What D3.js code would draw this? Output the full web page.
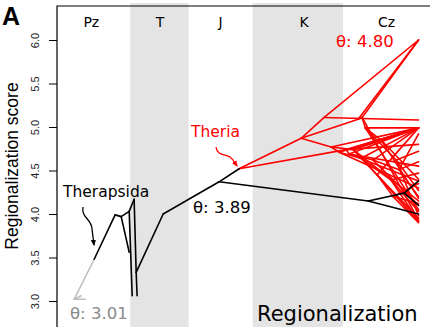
<!DOCTYPE html>
<html>
<head>
<meta charset="utf-8">
<script src="https://cdn.jsdelivr.net/npm/d3@7"></script>
<style>
  html, body { margin: 0; padding: 0; background: #fff; }
  svg { display: block; }
</style>
</head>
<body>
<svg id="chart" width="430" height="327"></svg>
<script>
// Geological periods (Ma before present)
const periodNames    = ["Pz", "T", "J", "K", "Cz"];
const periodStart    = [315, 252, 201, 145, 66];
const periodEnd      = [252, 201, 145, 66, -11];
const periodLabelAge = [286, 226, 173, 100, 28];
const periodShaded   = [false, true, false, true, false];

// Regionalization score axis
const scoreTicks = [3.0, 3.5, 4.0, 4.5, 5.0, 5.5, 6.0];

// Internal / fossil nodes of the phenogram: id, age (Ma), regionalization score
const nodeIds = ["root","s1","s2","n1","n2","n3","t1","n4","t2","n5","n6","t3","n7","n8","TH",
                 "b1","b2","R1","R2","R3","R3b","R5","R6","R4",
                 "C1","C2","C3","C4","C5","C6","C7","C8","C9","C10","C11"];
const nodeAges   = [301, 294.9, 291.4, 283.5, 265.2, 259.9, 252.9, 252.9, 250.3, 248.6, 246.8, 246.0, 223.2, 174.3, 156.8,
                    44.0, 12.5, 102.6, 82.5, 52.8, 49.3, 46.6, 76.4, 63.3,
                    69.4, 60.6, 57.1, 50.1, 39.7, 36.2, 24.1, 17.1, 22.2, 32.7, 19.5];
const nodeScores = [3.02, 3.06, 3.02, 3.48, 3.99, 3.97, 3.56, 4.03, 3.06, 4.17, 3.33, 3.06, 4.00, 4.37, 4.52,
                    4.15, 4.24, 4.87, 5.11, 5.09, 5.11, 4.99, 4.77, 4.74,
                    4.71, 4.69, 4.74, 4.64, 4.62, 4.45, 4.39, 4.51, 4.20, 4.85, 4.62];

// Branches between nodes: parent, child, regime
const branchParent = ["root","root","root","n1","n2","n3","n3","n4","n4","n5","n6","n6","n7","n8","n8","b1",
                      "TH","TH","R1","R1","R3","R3b","R1","R6","R4","R6","C1","C2","C3","C4","C5","C6","R5","R5"];
const branchChild  = ["s1","s2","n1","n2","n3","t1","n4","t2","n5","n6","t3","n7","n8","TH","b1","b2",
                      "R1","R4","R2","R3","R3b","R5","R6","C1","C2","C3","C4","C5","C6","C7","C8","C9","C10","C11"];
const branchRegime = ["stem","stem","stem","therapsid","therapsid","therapsid","therapsid","therapsid","therapsid",
                      "therapsid","therapsid","therapsid","therapsid","therapsid","therapsid","therapsid",
                      "theria","theria","theria","theria","theria","theria","theria","theria","theria","theria",
                      "theria","theria","theria","theria","theria","theria","theria","theria"];

// Living taxa (age 0): parent node and regionalization score
const tipParent = ["b2","b2","b1",
                   "R2","R2","R3","R3b","R3b","R5","R5","R6","R4","R4","C1","C1","C2","C2","C2","C3","C3",
                   "C4","C4","C5","C5","C6","C6","C7","C7","C7","C8","C8","C8","C9","C9","C9",
                   "C10","C10","C10","C11","C11","C11"];
const tipScore  = [4.38, 4.10, 4.00,
                   6.00, 5.08, 6.00, 6.00, 3.93, 4.99, 4.05, 4.99, 4.99, 4.80, 4.99, 4.30, 4.99, 4.55, 4.38, 4.99, 4.15,
                   4.99, 3.95, 4.99, 4.10, 4.99, 3.91, 4.03, 4.47, 3.92, 4.92, 4.60, 4.20, 4.35, 3.90, 4.12,
                   4.99, 4.40, 4.18, 4.72, 4.27, 3.98];

// Estimated optima per regime
const thetaRegime = ["stem", "therapsid", "theria"];
const thetaValue  = [3.01, 3.89, 4.80];

// Clade labels
const cladeNames = ["Therapsida", "Theria"];

// ---------------------------------------------------------------
const W = 430, H = 327;
const sans = "'Liberation Sans', Arial, sans-serif";
const dejavu = "'DejaVu Sans', Verdana, sans-serif";
const regimeColor = { stem: "#bebebe", therapsid: "#000000", theria: "#ff0000" };
const thetaColor  = { stem: "#8a8a8a", therapsid: "#000000", theria: "#ff0000" };

const x = d3.scaleLinear().domain([-316, 10]).range([57, 430]);
const y = d3.scaleLinear().domain([3, 6]).range([301, 40]);

const svg = d3.select("#chart");

// period shading
periodNames.forEach((p, i) => {
  if (periodShaded[i]) {
    svg.append("rect")
      .attr("x", x(-periodStart[i])).attr("y", 3)
      .attr("width", x(-periodEnd[i]) - x(-periodStart[i]))
      .attr("height", H - 3)
      .attr("fill", "#e4e4e4");
  }
  svg.append("text")
    .attr("x", x(-periodLabelAge[i])).attr("y", 27)
    .attr("text-anchor", "middle")
    .attr("font-family", dejavu).attr("font-size", 14)
    .attr("fill", "#000")
    .text(p);
});

// plot frame (left and top)
svg.append("path")
  .attr("d", `M${x.range()[0]},${H}V6H${W}`)
  .attr("fill", "none").attr("stroke", "#000").attr("stroke-width", 1.2);

// y axis
const yAxis = svg.append("g")
  .attr("transform", `translate(${x.range()[0]},0)`)
  .call(d3.axisLeft(y).tickValues(scoreTicks).tickSize(8).tickFormat(d3.format(".1f")));
yAxis.select(".domain").remove();
yAxis.selectAll(".tick line").attr("stroke", "#000").attr("stroke-width", 1);
yAxis.selectAll(".tick text")
  .attr("font-family", sans).attr("font-size", 11).attr("fill", "#222")
  .attr("text-anchor", "middle")
  .attr("x", 0).attr("dy", 0)
  .attr("transform", "translate(-18,0) rotate(-90)");

svg.append("text")
  .attr("transform", `translate(18,166) rotate(-90)`)
  .attr("text-anchor", "middle")
  .attr("font-family", sans).attr("font-size", 17.5).attr("fill", "#000")
  .text("Regionalization score");

// phenogram branches
const pos = new Map(nodeIds.map((id, i) => [id, [-nodeAges[i], nodeScores[i]]]));
const regimeOf = new Map(branchChild.map((c, i) => [c, branchRegime[i]]));
const segs = branchParent.map((p, i) => ({ a: pos.get(p), b: pos.get(branchChild[i]), regime: branchRegime[i] }))
  .concat(tipParent.map((p, i) => ({ a: pos.get(p), b: [0, tipScore[i]], regime: regimeOf.get(p) })));

const line = d3.line().x(d => x(d[0])).y(d => y(d[1]));
const drawOrder = ["theria", "stem", "therapsid"];
drawOrder.forEach(r => {
  svg.append("g").selectAll("path")
    .data(segs.filter(s => s.regime === r))
    .join("path")
    .attr("d", s => line([s.a, s.b]))
    .attr("fill", "none")
    .attr("stroke", regimeColor[r])
    .attr("stroke-width", 1.6)
    .attr("stroke-linecap", "round");
});

// optima labels
const thetaPos = { stem: [70, 319], therapsid: [193, 213], theria: [336, 47] };
thetaRegime.forEach((r, i) => {
  svg.append("text")
    .attr("x", thetaPos[r][0]).attr("y", thetaPos[r][1])
    .attr("font-family", dejavu).attr("font-size", 16.5)
    .attr("fill", thetaColor[r])
    .text("θ: " + thetaValue[i].toFixed(2));
});

// clade labels with curly pointers
const defs = svg.append("defs");
[["headBlack", "#000"], ["headRed", "#ff0000"]].forEach(([id, c]) => {
  defs.append("marker").attr("id", id)
    .attr("viewBox", "0 0 10 10").attr("refX", 8).attr("refY", 5)
    .attr("markerWidth", 5).attr("markerHeight", 5).attr("orient", "auto")
    .append("path").attr("d", "M0,1L10,5L0,9Z").attr("fill", c);
});

svg.append("text")
  .attr("x", 63).attr("y", 197)
  .attr("font-family", dejavu).attr("font-size", 15.5).attr("fill", "#000")
  .text(cladeNames[0]);
svg.append("path")
  .attr("d", "M83,207 C81,218 92,219 92,229 L94,245")
  .attr("fill", "none").attr("stroke", "#000").attr("stroke-width", 1.3)
  .attr("marker-end", "url(#headBlack)");

svg.append("text")
  .attr("x", 191).attr("y", 137)
  .attr("font-family", dejavu).attr("font-size", 15.5).attr("fill", "#ff0000")
  .text(cladeNames[1]);
svg.append("path")
  .attr("d", "M216,147 C217,156 226,154 230,157 C234,160 235,163 237,166")
  .attr("fill", "none").attr("stroke", "#ff0000").attr("stroke-width", 1.3)
  .attr("marker-end", "url(#headRed)");

// panel letter and title
svg.append("text")
  .attr("x", 2).attr("y", 25)
  .attr("font-family", sans).attr("font-weight", "bold").attr("font-size", 25)
  .attr("fill", "#000").text("A");

svg.append("text")
  .attr("x", 257).attr("y", 321)
  .attr("font-family", dejavu).attr("font-size", 21).attr("fill", "#000")
  .text("Regionalization");
</script>
</body>
</html>
